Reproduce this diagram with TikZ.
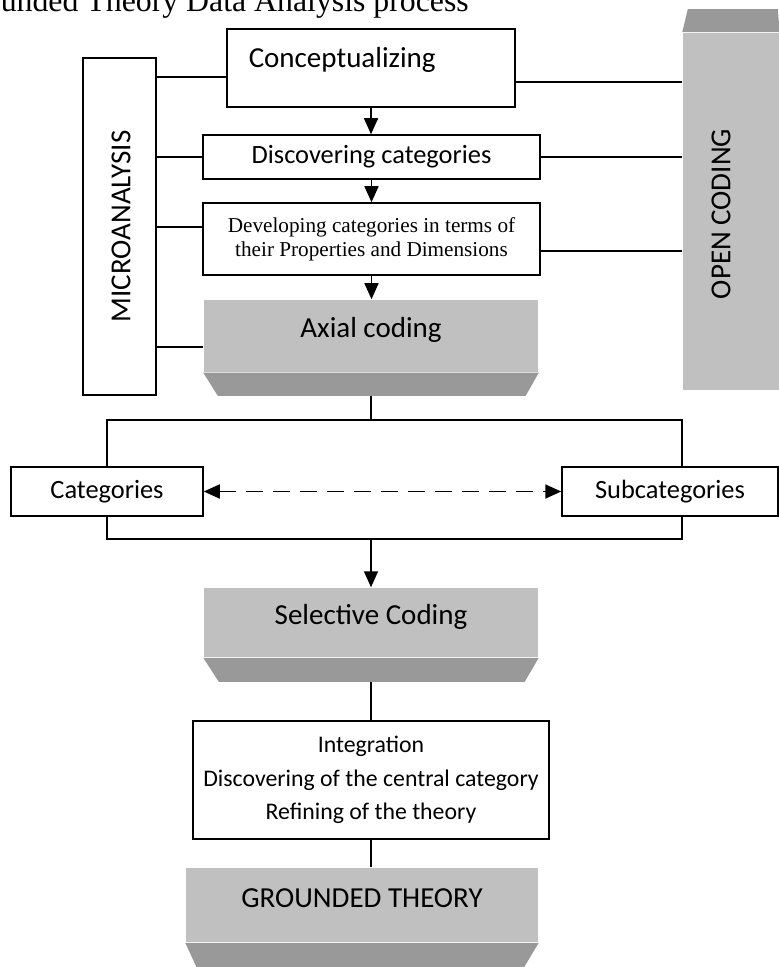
\documentclass[tikz,border=0pt]{standalone}
\usepackage{fontspec}
\setmainfont{Carlito}
\newfontfamily\timesfont{Liberation Serif}
\usetikzlibrary{arrows.meta}
\definecolor{face}{HTML}{C0C0C0}
\definecolor{edge}{HTML}{999999}

\begin{document}
\begin{tikzpicture}[x=0.5pt,y=-0.5pt,>={Triangle[length=8pt,width=7pt]},line width=0.75pt,
                    box/.style={draw,rectangle,inner sep=0pt},
                    greyface/.style={fill=face,rectangle,inner sep=0pt},
                    greybox/.style={greyface,text height=9pt,text depth=7pt},
                    bevel/.style={fill=edge},
                    every node/.style={font=\fontsize{14.5}{17}\selectfont}]

  \clip (0,0) rectangle (779,967);

  % title, cut at the page edge
  \node[anchor=base west,inner sep=0pt,font=\timesfont\fontsize{15.9}{18}\selectfont] (title) at (0,12) {unded Theory Data Analysis process};

  % side columns
  \node[box,minimum width=36.5pt,minimum height=168.5pt] (micro) at (119.5,226.5) {};
  \node[rotate=90,inner sep=0pt] (microtext) at (121,226.5) {MICROANALYSIS};
  \node[greyface,minimum width=48pt,minimum height=178.5pt] (open) at (731,211.5) {};
  \node[rotate=90,inner sep=0pt] (opentext) at (721,214) {OPEN CODING};
  \fill[bevel] (open.north west) -- (open.north east) -- ++(-2,-23) -- ++(-90,0) -- cycle;

  % main column
  \node[box,minimum width=144pt,minimum height=39pt] (concept) at (371,68) {};
  \node[anchor=west,inner sep=0pt] (concepttext) at (248,60) {Conceptualizing};
  \node[box,minimum width=168.5pt,minimum height=22pt,font=\fontsize{13.2}{15}\selectfont] (discover) at (371.5,157) {Discovering categories};
  \node[box,minimum width=168.5pt,minimum height=36pt,align=center,font=\timesfont\fontsize{10.6}{12}\selectfont] (develop) at (371.5,239) {Developing categories in terms of\\their Properties and Dimensions};
  \node[greybox,minimum width=167pt,minimum height=36pt] (axial) at (371,336) {Axial coding};
  \fill[bevel] (axial.south west) -- (axial.south east) -- ++(-13,23) -- ++(-308,0) -- cycle;

  \node[box,minimum width=96pt,minimum height=24.5pt,font=\fontsize{13.2}{15}\selectfont] (cat) at (107,491.5) {Categories};
  \node[box,minimum width=108pt,minimum height=24.5pt,font=\fontsize{13.2}{15}\selectfont] (subcat) at (670,491.5) {Subcategories};

  \node[greybox,minimum width=167pt,minimum height=34.5pt] (select) at (371,622.5) {Selective Coding};
  \fill[bevel] (select.south west) -- (select.south east) -- ++(-14,24) -- ++(-306,0) -- cycle;

  \node[box,minimum width=178pt,minimum height=59pt,align=center,font=\fontsize{11.9}{16.75}\selectfont] (integ) at (371,780) {Integration\\Discovering of the central category\\Refining of the theory};

  \node[greybox,minimum width=176pt,minimum height=37pt] (ground) at (362,905) {GROUNDED THEORY};
  \fill[bevel] (ground.south west) -- (ground.south east) -- ++(-15,25) -- ++(-327,0) -- cycle;

  % links to the side columns
  \coordinate (c1) at ([yshift=-4.5pt]concept.west);
  \coordinate (c2) at ([yshift=6pt]develop.west);
  \coordinate (c3) at ([yshift=-5.5pt]axial.west);
  \coordinate (c4) at ([yshift=-7pt]concept.east);
  \coordinate (c5) at ([yshift=-6pt]develop.east);
  \draw (c1) -- (micro.east |- c1);
  \draw (discover.west) -- (micro.east |- discover.west);
  \draw (c2) -- (micro.east |- c2);
  \draw (c3) -- (micro.east |- c3);
  \draw (c4) -- (open.west |- c4);
  \draw (discover.east) -- (open.west |- discover.east);
  \draw (c5) -- (open.west |- c5);

  % main flow
  \draw[->] (concept.south) -- (concept.south |- discover.north);
  \draw[->] (discover.south) -- (discover.south |- develop.north);
  \draw[->] (develop.south) -- (develop.south |- axial.north);

  \coordinate (axialbase) at ([yshift=-11.5pt]axial.south);
  \coordinate (topbar) at (371,420);
  \coordinate (botbar) at (371,539);
  \coordinate (subleg) at ([xshift=6pt]subcat.north);
  \coordinate (sublegb) at ([xshift=6pt]subcat.south);
  \draw (axialbase) -- (topbar);
  \draw (cat.north) -- (cat.north |- topbar) -- (subleg |- topbar) -- (subleg);
  \draw (cat.south) -- (cat.south |- botbar) -- (sublegb |- botbar) -- (sublegb);
  \draw[<->,line width=0.9pt,dash pattern=on 8.5pt off 5pt] (cat) -- (subcat);
  \draw[->] (botbar) -- (select.north);

  \coordinate (selectbase) at ([yshift=-12pt]select.south);
  \draw (selectbase) -- (integ.north);
  \draw (integ.south) -- (integ.south |- ground.north);

\end{tikzpicture}
\end{document}
